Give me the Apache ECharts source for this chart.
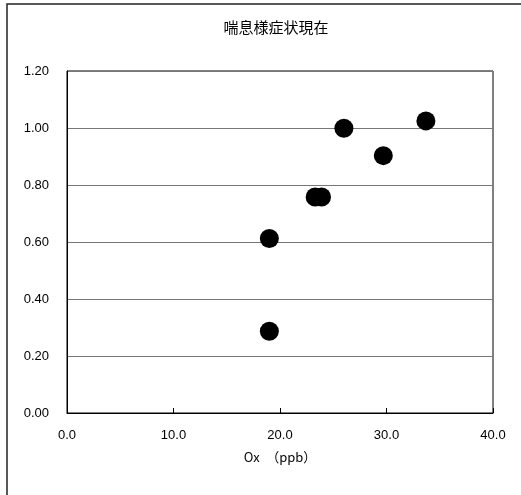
<!DOCTYPE html>
<html>
<head>
<meta charset="utf-8">
<script src="https://cdn.jsdelivr.net/npm/echarts@6/dist/echarts.min.js"></script>
<style>
html,body{margin:0;padding:0;background:#fff;}
#chart{width:521px;height:495px;}
</style>
</head>
<body>
<div id="chart"></div>
<script>
var titleText = "喘息様症状現在";
var xName = "Ox\u3000（ppb）";
var oxValues = [19.0, 19.0, 23.3, 23.9, 26.0, 29.7, 33.7];
var symptomValues = [0.287, 0.612, 0.758, 0.758, 0.999, 0.903, 1.025];
var xTicks = [0, 10, 20, 30, 40];
var yTicks = [0, 0.2, 0.4, 0.6, 0.8, 1.0, 1.2];

var points = oxValues.map(function (x, i) { return [x, symptomValues[i]]; });

var chart = echarts.init(document.getElementById('chart'), null, {renderer: 'canvas'});
chart.setOption({
  animation: false,
  backgroundColor: '#fff',
  graphic: [{
    type: 'rect',
    shape: {x: 7, y: 4, width: 700, height: 700},
    style: {fill: 'none', stroke: '#222', lineWidth: 1.5},
    silent: true
  }],
  title: {
    text: titleText,
    left: 271,
    textAlign: 'center',
    top: 15,
    textStyle: {fontFamily: 'Noto Sans CJK JP', fontSize: 15, fontWeight: 'normal', color: '#000'}
  },
  grid: {
    left: 67, right: 28, top: 71, bottom: 82,
    show: true, borderColor: '#000', borderWidth: 1, backgroundColor: 'transparent'
  },
  xAxis: {
    type: 'value',
    min: xTicks[0], max: xTicks[xTicks.length - 1], interval: 10,
    name: xName, nameLocation: 'middle', nameGap: 38,
    nameTextStyle: {fontFamily: 'Noto Sans CJK JP', fontSize: 13, color: '#000'},
    axisLine: {show: true, lineStyle: {color: '#000', width: 1}},
    axisTick: {show: true, inside: true, length: 5, lineStyle: {color: '#000'}},
    axisLabel: {
      margin: 16, color: '#000', fontFamily: 'Liberation Sans', fontSize: 13,
      formatter: function (v) { return v.toFixed(1); }
    },
    splitLine: {show: false}
  },
  yAxis: {
    type: 'value',
    min: yTicks[0], max: yTicks[yTicks.length - 1], interval: 0.2,
    axisLine: {show: true, lineStyle: {color: '#000', width: 1}},
    axisTick: {show: false},
    axisLabel: {
      margin: 18, color: '#000', fontFamily: 'Liberation Sans', fontSize: 13,
      formatter: function (v) { return v.toFixed(2); }
    },
    splitLine: {show: true, lineStyle: {color: '#777', width: 1}}
  },
  series: [{
    type: 'scatter',
    data: points,
    symbol: 'circle',
    symbolSize: 19,
    itemStyle: {color: '#000', opacity: 1}
  }]
});
</script>
</body>
</html>
